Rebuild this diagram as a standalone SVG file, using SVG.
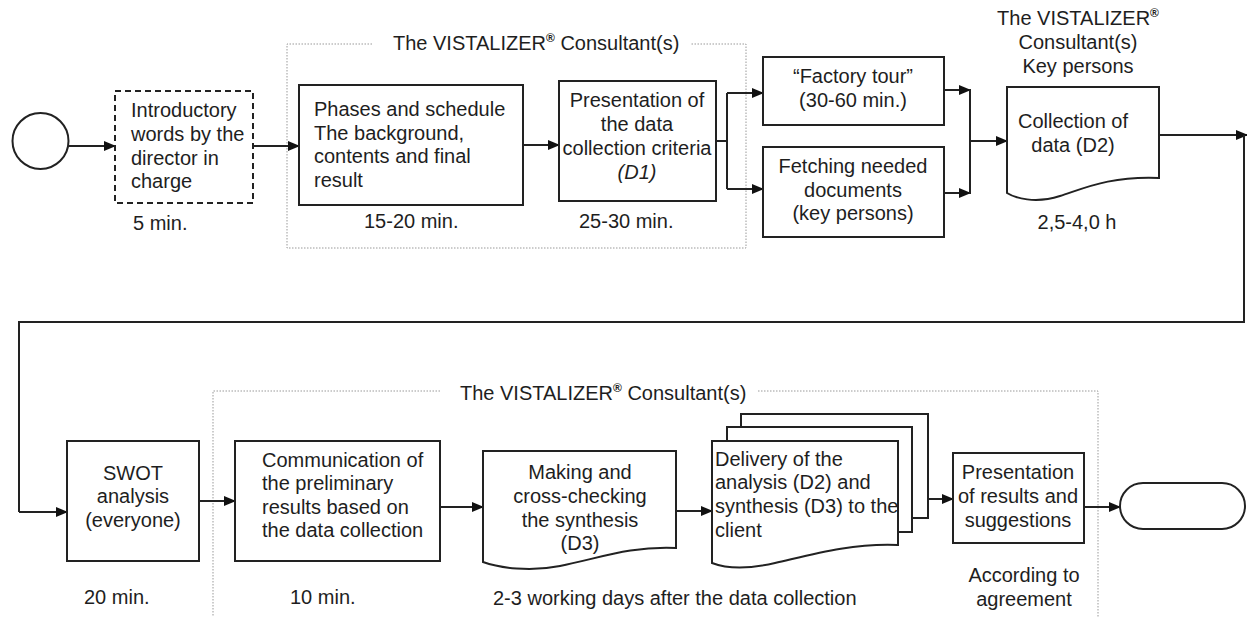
<svg xmlns="http://www.w3.org/2000/svg" width="1247" height="617" viewBox="0 0 1247 617">
<style>
text{font-family:"Liberation Sans",Arial,sans-serif;font-size:20px;fill:#1e1e1e}
.c{text-anchor:middle}
.box{fill:#fff;stroke:#222;stroke-width:2}
.dash{fill:#fff;stroke:#222;stroke-width:2;stroke-dasharray:6 4}
.grp{fill:none;stroke:#999;stroke-width:1;stroke-dasharray:1.5 1.5}
.ln{fill:none;stroke:#222;stroke-width:2}
.sup{font-size:12px;font-weight:bold}
</style>
<defs>
<marker id="ah" markerWidth="12" markerHeight="10" refX="11" refY="5" orient="auto" markerUnits="userSpaceOnUse">
<path d="M0,0 L12,5 L0,10 Z" fill="#111"/>
</marker>
</defs>
<g id="groups">
<path class="grp" d="M372,44 H287 V248 H746 V44 H691"/>
<text x="393" y="50">The VISTALIZER<tspan class="sup" dy="-8">®</tspan><tspan dy="8"> Consultant(s)</tspan></text>
<path class="grp" d="M440,391 H213 V620 M758,391 H1098 V620"/>
<text x="460" y="400">The VISTALIZER<tspan class="sup" dy="-8">®</tspan><tspan dy="8"> Consultant(s)</tspan></text>
</g>
<g id="connectors">
<line class="ln" x1="69" y1="146" x2="115" y2="146" marker-end="url(#ah)"/>
<line class="ln" x1="253" y1="146" x2="299" y2="146" marker-end="url(#ah)"/>
<line class="ln" x1="523" y1="145" x2="559" y2="145" marker-end="url(#ah)"/>
<path class="ln" d="M716,141 H727 M727,93 V189"/>
<line class="ln" x1="727" y1="93" x2="763" y2="93" marker-end="url(#ah)"/>
<line class="ln" x1="727" y1="189" x2="763" y2="189" marker-end="url(#ah)"/>
<line class="ln" x1="944" y1="90" x2="970" y2="90" marker-end="url(#ah)"/>
<line class="ln" x1="944" y1="193" x2="970" y2="193" marker-end="url(#ah)"/>
<path class="ln" d="M970,89 V194"/>
<line class="ln" x1="970" y1="141" x2="1007" y2="141" marker-end="url(#ah)"/>
<line class="ln" x1="1159" y1="135" x2="1247" y2="135" marker-end="url(#ah)"/>
<path class="ln" d="M1244,135 V322 H19 V512"/>
<line class="ln" x1="19" y1="512" x2="67" y2="512" marker-end="url(#ah)"/>
<line class="ln" x1="199" y1="501" x2="235" y2="501" marker-end="url(#ah)"/>
<line class="ln" x1="440" y1="507" x2="483" y2="507" marker-end="url(#ah)"/>
<line class="ln" x1="676" y1="511" x2="712" y2="511" marker-end="url(#ah)"/>
<line class="ln" x1="928" y1="499" x2="953" y2="499" marker-end="url(#ah)"/>
<line class="ln" x1="1084" y1="507" x2="1120" y2="507" marker-end="url(#ah)"/>
</g>
<g id="start">
<circle class="box" cx="40.5" cy="141" r="28"/>
</g>
<g id="intro">
<rect class="dash" x="115" y="91" width="138" height="112"/>
<text x="131" y="117">Introductory</text>
<text x="131" y="141">words by the</text>
<text x="131" y="165">director in</text>
<text x="131" y="188">charge</text>
<text x="133" y="230">5 min.</text>
</g>
<g id="phases">
<rect class="box" x="299" y="85" width="224" height="120"/>
<text x="314" y="116">Phases and schedule</text>
<text x="314" y="140">The background,</text>
<text x="314" y="163">contents and final</text>
<text x="314" y="187">result</text>
<text x="364" y="228">15-20 min.</text>
</g>
<g id="criteria">
<rect class="box" x="559" y="81" width="157" height="120"/>
<text class="c" x="637" y="107">Presentation of</text>
<text class="c" x="637" y="131">the data</text>
<text class="c" x="637" y="155">collection criteria</text>
<text class="c" x="637" y="179" font-style="italic">(D1)</text>
<text x="579" y="228">25-30 min.</text>
</g>
<g id="factory">
<rect class="box" x="763" y="57" width="181" height="68"/>
<text class="c" x="853" y="83">“Factory tour”</text>
<text class="c" x="853" y="107">(30-60 min.)</text>
</g>
<g id="fetching">
<rect class="box" x="763" y="147" width="181" height="90"/>
<text class="c" x="853" y="173">Fetching needed</text>
<text class="c" x="853" y="197">documents</text>
<text class="c" x="853" y="220">(key persons)</text>
</g>
<g id="collection">
<text class="c" x="1078" y="25">The VISTALIZER<tspan class="sup" dy="-8">®</tspan></text>
<text class="c" x="1078" y="49">Consultant(s)</text>
<text class="c" x="1078" y="73">Key persons</text>
<path class="box" d="M1007,87 H1159 V178 C1110,176 1085,188 1060,196 C1035,204 1015,198 1007,193 Z"/>
<text class="c" x="1073" y="128">Collection of</text>
<text class="c" x="1073" y="152">data (D2)</text>
<text class="c" x="1077" y="229">2,5-4,0 h</text>
</g>
<g id="swot">
<rect class="box" x="67" y="441" width="132" height="120"/>
<text class="c" x="133" y="480">SWOT</text>
<text class="c" x="133" y="503">analysis</text>
<text class="c" x="133" y="527">(everyone)</text>
<text x="84" y="604">20 min.</text>
</g>
<g id="communication">
<rect class="box" x="235" y="441" width="205" height="120"/>
<text x="262" y="467">Communication of</text>
<text x="262" y="490">the preliminary</text>
<text x="262" y="514">results based on</text>
<text x="262" y="537">the data collection</text>
<text x="290" y="604">10 min.</text>
</g>
<g id="making">
<path class="box" d="M483,451 H676 V548 C630,546 600,558 560,566 C530,572 500,568 483,562 Z"/>
<text class="c" x="580" y="479">Making and</text>
<text class="c" x="580" y="503">cross-checking</text>
<text class="c" x="580" y="527">the synthesis</text>
<text class="c" x="580" y="550">(D3)</text>
<text x="493" y="605">2-3 working days after the data collection</text>
</g>
<g id="delivery">
<path class="box" d="M741,427 V414 H928 V518 H912"/>
<path class="box" d="M727,441 V427 H912 V532 H898"/>
<path class="box" d="M712,441 H898 V545 C850,543 810,555 775,563 C745,570 725,568 712,563 Z"/>
<text x="715" y="466">Delivery of the</text>
<text x="715" y="489">analysis (D2) and</text>
<text x="715" y="513">synthesis (D3) to the</text>
<text x="715" y="537">client</text>
</g>
<g id="presentation">
<rect class="box" x="953" y="453" width="131" height="90"/>
<text class="c" x="1018" y="479">Presentation</text>
<text class="c" x="1018" y="503">of results and</text>
<text class="c" x="1018" y="527">suggestions</text>
<text class="c" x="1024" y="582">According to</text>
<text class="c" x="1024" y="606">agreement</text>
</g>
<g id="end">
<rect class="box" x="1120" y="483" width="125" height="46" rx="23"/>
</g>
</svg>
